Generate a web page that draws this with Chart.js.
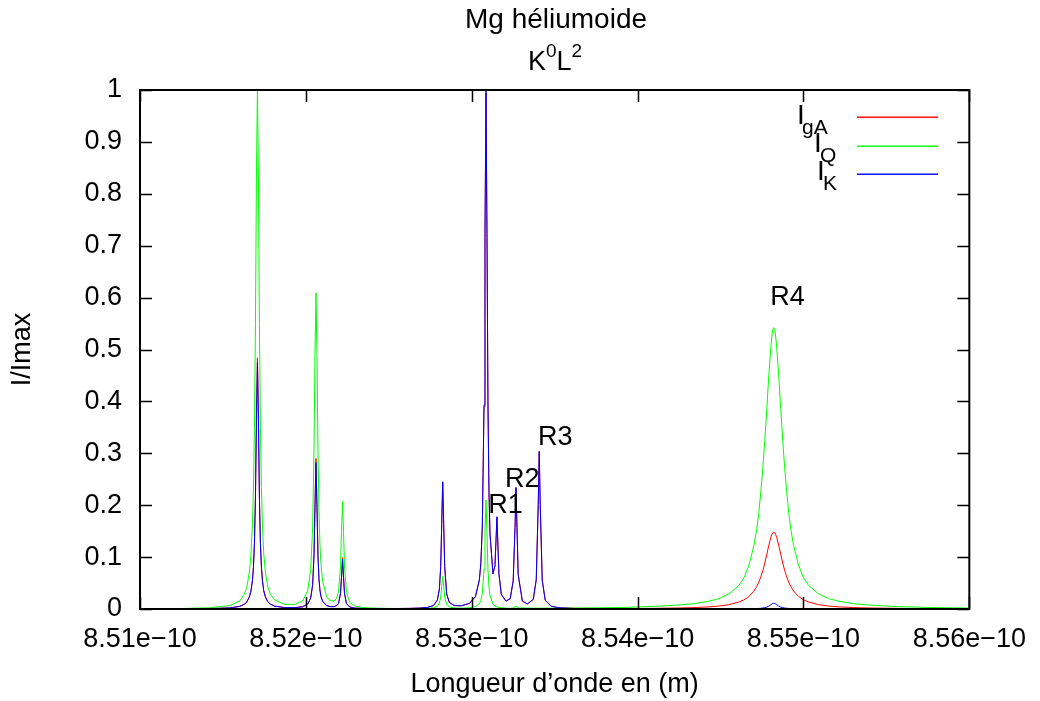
<!DOCTYPE html>
<html>
<head>
<meta charset="utf-8">
<script src="https://cdn.jsdelivr.net/npm/chart.js@4.4.1/dist/chart.umd.min.js"></script>
<style>
html,body{margin:0;padding:0;background:#ffffff;}
#wrap{width:1040px;height:701px;}
</style>
</head>
<body>
<div id="wrap"><canvas id="c" width="1040" height="701"></canvas></div>
<script>
// Wavelength (in units of 1e-10 m)
const wavelength = [
 8.51000, 8.51241, 8.51421, 8.51542, 8.51602, 8.51629, 8.51644, 8.51659, 8.51668, 8.51678,
 8.51684, 8.51690, 8.51696, 8.51702, 8.51708, 8.51714, 8.51720, 8.51726, 8.51732, 8.51738,
 8.51746, 8.51756, 8.51770, 8.51786, 8.51812, 8.51872, 8.51933, 8.51981, 8.52011, 8.52029,
 8.52041, 8.52049, 8.52055, 8.52061, 8.52067, 8.52073, 8.52079, 8.52085, 8.52091, 8.52101,
 8.52125, 8.52143, 8.52167, 8.52185, 8.52197, 8.52209, 8.52215, 8.52221, 8.52227, 8.52233,
 8.52245, 8.52264, 8.52294, 8.52336, 8.52384, 8.52444, 8.52534, 8.52625, 8.52685, 8.52733,
 8.52769, 8.52793, 8.52805, 8.52813, 8.52819, 8.52825, 8.52831, 8.52837, 8.52849, 8.52865,
 8.52895, 8.52937, 8.52986, 8.53022, 8.53046, 8.53055, 8.53064, 8.53074, 8.53080, 8.53086,
 8.53092, 8.53098, 8.53104, 8.53110, 8.53128, 8.53140, 8.53146, 8.53152, 8.53158, 8.53164,
 8.53178, 8.53206, 8.53232, 8.53250, 8.53261, 8.53267, 8.53273, 8.53280, 8.53305, 8.53335,
 8.53371, 8.53389, 8.53401, 8.53407, 8.53413, 8.53425, 8.53443, 8.53479, 8.53527, 8.53617,
 8.53768, 8.53948, 8.54129, 8.54249, 8.54340, 8.54430, 8.54490, 8.54550, 8.54610, 8.54641,
 8.54671, 8.54701, 8.54719, 8.54731, 8.54743, 8.54755, 8.54767, 8.54779, 8.54791, 8.54803,
 8.54809, 8.54815, 8.54821, 8.54827, 8.54833, 8.54839, 8.54851, 8.54863, 8.54875, 8.54887,
 8.54899, 8.54911, 8.54923, 8.54941, 8.54971, 8.55001, 8.55032, 8.55092, 8.55152, 8.55212,
 8.55302, 8.55393, 8.55573, 8.55814, 8.56000
];
// I_gA (red)
const intensityGA = [
 0.0001, 0.0003, 0.0008, 0.0021, 0.0051, 0.0094, 0.0136, 0.0235, 0.0334, 0.0554,
 0.0813, 0.1279, 0.216, 0.369, 0.484, 0.369, 0.216, 0.1279, 0.0815, 0.0554,
 0.0356, 0.0235, 0.0143, 0.0094, 0.0055, 0.0028, 0.0026, 0.0044, 0.0097, 0.0214,
 0.0478, 0.105, 0.201, 0.290, 0.201, 0.105, 0.0585, 0.0363, 0.0246, 0.0150,
 0.0067, 0.0048, 0.0045, 0.0063, 0.0110, 0.0306, 0.063, 0.099, 0.0629, 0.0303,
 0.0105, 0.0041, 0.0018, 0.0011, 0.0009, 0.0008, 0.0009, 0.0012, 0.0018, 0.0031,
 0.0066, 0.0173, 0.0386, 0.0817, 0.163, 0.245, 0.163, 0.082, 0.0287, 0.0127,
 0.0066, 0.0062, 0.0107, 0.0235, 0.0556, 0.0876, 0.1587, 0.3896, 0.716, 0.994,
 0.716, 0.3915, 0.2248, 0.1446, 0.0675, 0.0829, 0.129, 0.1774, 0.1217, 0.0679,
 0.0283, 0.0151, 0.0199, 0.0543, 0.157, 0.234, 0.156, 0.0665, 0.0154, 0.0096,
 0.0184, 0.0563, 0.2012, 0.303, 0.201, 0.0554, 0.0170, 0.0053, 0.0024, 0.0014,
 0.0011, 0.0010, 0.0014, 0.0020, 0.0027, 0.0041, 0.0057, 0.0083, 0.0133, 0.0175,
 0.0240, 0.0344, 0.0437, 0.0518, 0.0618, 0.074, 0.0887, 0.1053, 0.1226, 0.1377,
 0.1432, 0.1468, 0.148, 0.1468, 0.1432, 0.1377, 0.1226, 0.1053, 0.0887, 0.074,
 0.0618, 0.0518, 0.0437, 0.0344, 0.0240, 0.0175, 0.0133, 0.0083, 0.0057, 0.0041,
 0.0027, 0.0020, 0.0012, 0.0007, 0.0005
];
// I_Q (green)
const intensityQ = [
 0.0004, 0.0009, 0.0023, 0.0066, 0.0158, 0.0286, 0.0418, 0.071, 0.1005, 0.163,
 0.233, 0.350, 0.548, 0.829, 1.0, 0.830, 0.548, 0.350, 0.234, 0.163,
 0.1066, 0.071, 0.0438, 0.0286, 0.0172, 0.0090, 0.0089, 0.0159, 0.0349, 0.0754,
 0.158, 0.306, 0.488, 0.609, 0.488, 0.306, 0.189, 0.124, 0.086, 0.0535,
 0.0240, 0.0169, 0.0148, 0.0201, 0.0336, 0.084, 0.150, 0.207, 0.150, 0.083,
 0.0314, 0.0129, 0.0057, 0.0031, 0.0020, 0.0013, 0.0010, 0.0008, 0.0009, 0.0013,
 0.0023, 0.0054, 0.0114, 0.0231, 0.0437, 0.063, 0.0437, 0.0231, 0.0086, 0.0039,
 0.0020, 0.0016, 0.0023, 0.0046, 0.0105, 0.0166, 0.0301, 0.076, 0.146, 0.210,
 0.146, 0.076, 0.0423, 0.0262, 0.0095, 0.0060, 0.0049, 0.0041, 0.0035, 0.0031,
 0.0023, 0.0016, 0.0013, 0.0020, 0.0043, 0.0057, 0.0043, 0.0022, 0.0020, 0.0018,
 0.0016, 0.0016, 0.0016, 0.0016, 0.0016, 0.0016, 0.0016, 0.0015, 0.0016, 0.0018,
 0.0023, 0.0033, 0.0055, 0.0077, 0.0102, 0.0150, 0.020, 0.029, 0.045, 0.060,
 0.084, 0.122, 0.155, 0.186, 0.226, 0.271, 0.325, 0.386, 0.449, 0.503,
 0.524, 0.538, 0.542, 0.538, 0.524, 0.503, 0.449, 0.386, 0.325, 0.271,
 0.226, 0.186, 0.155, 0.122, 0.084, 0.060, 0.045, 0.029, 0.020, 0.0150,
 0.0102, 0.0077, 0.0045, 0.0026, 0.0018
];
// I_K (blue)
const intensityK = [
 0.0001, 0.0003, 0.0008, 0.0021, 0.0050, 0.0092, 0.0133, 0.0231, 0.0329, 0.0545,
 0.0800, 0.1257, 0.213, 0.363, 0.475, 0.363, 0.213, 0.1257, 0.0802, 0.0545,
 0.0350, 0.0231, 0.0141, 0.0092, 0.0054, 0.0027, 0.0026, 0.0043, 0.0094, 0.0208,
 0.0465, 0.102, 0.195, 0.282, 0.195, 0.102, 0.0569, 0.0353, 0.0239, 0.0146,
 0.0065, 0.0047, 0.0044, 0.0061, 0.0107, 0.0296, 0.061, 0.096, 0.0609, 0.0294,
 0.0102, 0.0040, 0.0018, 0.0011, 0.0009, 0.0008, 0.0009, 0.0012, 0.0018, 0.0031,
 0.0066, 0.0173, 0.0386, 0.0817, 0.163, 0.245, 0.163, 0.082, 0.0288, 0.0127,
 0.0066, 0.0062, 0.0108, 0.0237, 0.0561, 0.0885, 0.160, 0.3935, 0.723, 1.0,
 0.723, 0.395, 0.227, 0.146, 0.0681, 0.0832, 0.1293, 0.1776, 0.1219, 0.068,
 0.0284, 0.0152, 0.0199, 0.0543, 0.157, 0.234, 0.157, 0.0666, 0.0155, 0.0097,
 0.0185, 0.0563, 0.2012, 0.304, 0.201, 0.0554, 0.0170, 0.0053, 0.0024, 0.0010,
 0.0004, 0.0002, 0.0001, 0.0001, 0.0001, 0.0001, 0.0001, 0.0001, 0.0002, 0.0003,
 0.0004, 0.0006, 0.0009, 0.0011, 0.0014, 0.0019, 0.0026, 0.0037, 0.0055, 0.0081,
 0.0095, 0.0106, 0.011, 0.0106, 0.0095, 0.0081, 0.0055, 0.0037, 0.0026, 0.0019,
 0.0014, 0.0011, 0.0009, 0.0006, 0.0004, 0.0003, 0.0002, 0.0001, 0.0001, 0.0001,
 0.0001, 0.0001, 0.0001, 0.0001, 0.0001
];

const xTickValues = [8.51, 8.52, 8.53, 8.54, 8.55, 8.56];
const xTickLabels = ['8.51e\u221210', '8.52e\u221210', '8.53e\u221210', '8.54e\u221210', '8.55e\u221210', '8.56e\u221210'];
const yTickValues = [0, 0.1, 0.2, 0.3, 0.4, 0.5, 0.6, 0.7, 0.8, 0.9, 1];
const yTickLabels = ['0', '0.1', '0.2', '0.3', '0.4', '0.5', '0.6', '0.7', '0.8', '0.9', '1'];

const peakNames = ['R1', 'R2', 'R3', 'R4'];
const peakLabelX = [8.531, 8.532, 8.534, 8.548];
const peakLabelY = [0.2, 0.25, 0.33, 0.6];

const seriesSubscripts = ['gA', 'Q', 'K'];
const seriesColors = ['#ff0000', '#00ff00', '#0000ff'];

const FONT = "'Liberation Sans', Arial, Helvetica, sans-serif";

const decor = {
  id: 'decor',
  afterDatasetsDraw(chart) {
    const ctx = chart.ctx;
    const a = chart.chartArea;
    const xs = chart.scales.x, ys = chart.scales.y;
    ctx.save();
    ctx.strokeStyle = '#000';
    ctx.lineWidth = 1.5;
    ctx.beginPath();
    xs.ticks.forEach(t => {
      const p = Math.round(xs.getPixelForValue(t.value)) + 0.5;
      ctx.moveTo(p, a.bottom); ctx.lineTo(p, a.bottom - 12);
      ctx.moveTo(p, a.top); ctx.lineTo(p, a.top + 12);
    });
    ys.ticks.forEach(t => {
      const p = Math.round(ys.getPixelForValue(t.value)) + 0.5;
      ctx.moveTo(a.left, p); ctx.lineTo(a.left + 12, p);
      ctx.moveTo(a.right, p); ctx.lineTo(a.right - 12, p);
    });
    ctx.stroke();
    ctx.lineWidth = 2;
    ctx.strokeRect(a.left, a.top, a.right - a.left, a.bottom - a.top);
    ctx.restore();
  },
  afterDraw(chart) {
    const ctx = chart.ctx;
    const xs = chart.scales.x, ys = chart.scales.y;
    ctx.save();
    ctx.fillStyle = '#000';
    // Title
    ctx.textAlign = 'center';
    ctx.textBaseline = 'alphabetic';
    ctx.font = '28px ' + FONT;
    ctx.fillText('Mg h\u00e9liumoide', 556, 28);
    const parts = [['K', 27, 0], ['0', 19, -13], ['L', 27, 0], ['2', 19, -13]];
    let total = 0;
    parts.forEach(p => { ctx.font = p[1] + 'px ' + FONT; total += ctx.measureText(p[0]).width; });
    let cx = 555 - total / 2;
    ctx.textAlign = 'left';
    parts.forEach(p => {
      ctx.font = p[1] + 'px ' + FONT;
      ctx.fillText(p[0], cx, 70 + p[2]);
      cx += ctx.measureText(p[0]).width;
    });
    // Peak labels
    ctx.font = '27px ' + FONT;
    ctx.textBaseline = 'middle';
    peakNames.forEach((n, i) => {
      ctx.fillText(n, xs.getPixelForValue(peakLabelX[i]), ys.getPixelForValue(peakLabelY[i]));
    });
    // Legend: I with subscript, plus sample line in the series colour
    const rows = [
      {ix: 797, base: 124, sx: 802, sb: 134, ly: 117},
      {ix: 814, base: 152, sx: 820, sb: 162, ly: 146},
      {ix: 817, base: 180, sx: 823, sb: 190, ly: 174}
    ];
    ctx.textBaseline = 'alphabetic';
    rows.forEach((r, i) => {
      ctx.fillStyle = '#000';
      ctx.font = '28px ' + FONT;
      ctx.fillText('I', r.ix, r.base);
      ctx.font = '21px ' + FONT;
      ctx.fillText(seriesSubscripts[i], r.sx, r.sb);
      ctx.fillStyle = chart.data.datasets[i].borderColor;
      ctx.fillRect(857, r.ly - 0.5, 81, 1.4);
    });
    ctx.restore();
  }
};

const toPts = ys => wavelength.map((x, i) => ({x: x, y: ys[i]}));

new Chart(document.getElementById('c').getContext('2d'), {
  type: 'line',
  data: {
    datasets: [
      {label: 'I_gA', data: toPts(intensityGA), borderColor: seriesColors[0], borderWidth: 1, pointRadius: 0, tension: 0, order: 3},
      {label: 'I_Q', data: toPts(intensityQ), borderColor: seriesColors[1], borderWidth: 1, pointRadius: 0, tension: 0, order: 2},
      {label: 'I_K', data: toPts(intensityK), borderColor: seriesColors[2], borderWidth: 1, pointRadius: 0, tension: 0, order: 1}
    ]
  },
  options: {
    responsive: false,
    animation: false,
    devicePixelRatio: 1,
    layout: {padding: {left: 0, right: 69, top: 90, bottom: 0}},
    plugins: {legend: {display: false}, tooltip: {enabled: false}, title: {display: false}},
    scales: {
      x: {
        type: 'linear', min: 8.51, max: 8.56,
        afterBuildTicks: s => { s.ticks = xTickValues.map(v => ({value: v})); },
        afterFit: s => { s.height = 92; },
        grid: {display: false, drawTicks: false},
        border: {display: false},
        ticks: {
          callback: v => xTickLabels[xTickValues.indexOf(v)],
          font: {family: FONT, size: 27}, color: '#000', padding: 14, maxRotation: 0, autoSkip: false
        },
        title: {display: true, text: 'Longueur d\u2019onde en (m)', font: {family: FONT, size: 27}, color: '#000', padding: {top: 0, bottom: 0}}
      },
      y: {
        type: 'linear', min: 0, max: 1,
        afterBuildTicks: s => { s.ticks = yTickValues.map(v => ({value: v})); },
        afterFit: s => { s.width = 140; },
        grid: {display: false, drawTicks: false},
        border: {display: false},
        ticks: {
          callback: v => yTickLabels[yTickValues.indexOf(v)],
          font: {family: FONT, size: 27}, color: '#000', padding: 18, autoSkip: false
        },
        title: {display: true, text: 'I/Imax', font: {family: FONT, size: 27}, color: '#000', padding: {top: 6, bottom: 0}}
      }
    }
  },
  plugins: [decor]
});
</script>
</body>
</html>
